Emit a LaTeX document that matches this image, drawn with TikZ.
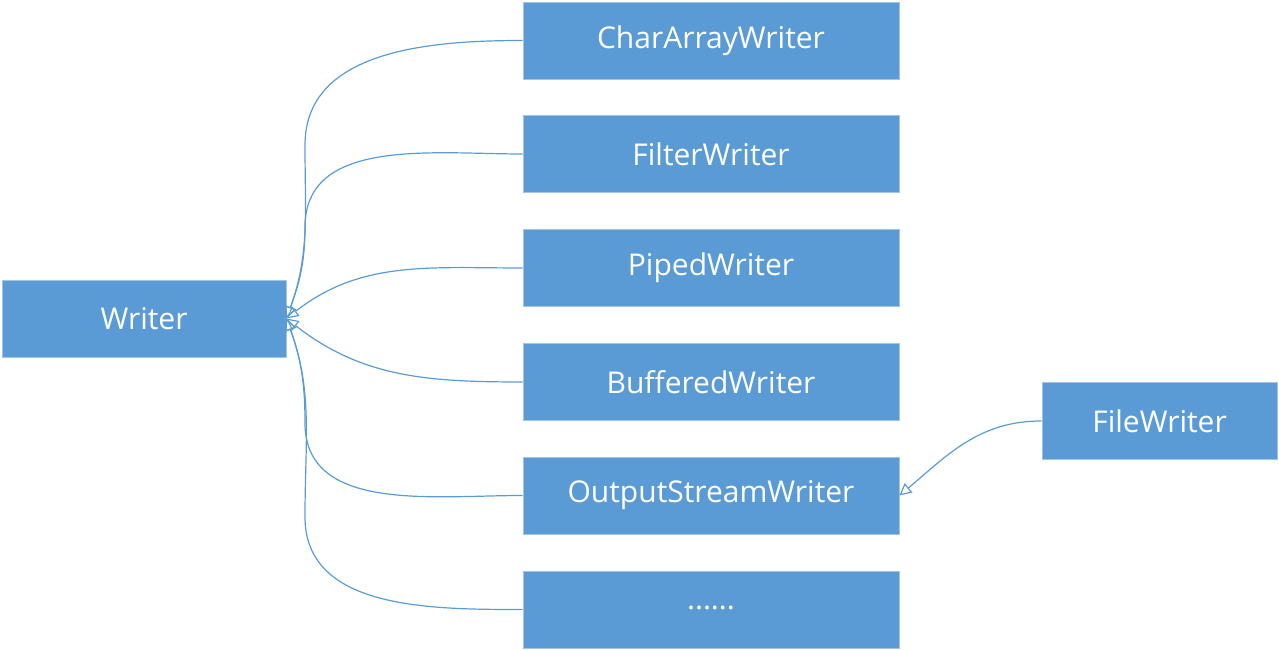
\documentclass[tikz,border=0pt]{standalone}
\usepackage{fontspec}
\setmainfont{Open Sans}
\usetikzlibrary{arrows.meta}
\definecolor{lopxanh}{HTML}{5B9BD5}
\definecolor{vienxanh}{HTML}{A3C4E6}
\begin{document}
\begin{tikzpicture}[x=1pt,y=1pt,
	lop/.style={fill=lopxanh,draw=vienxanh,line width=0.8pt,text=white,font=\fontsize{30}{34}\selectfont,minimum height=77pt,inner sep=0pt},
	ketoi/.style={draw=lopxanh,line width=1.2pt,-{Triangle[open,length=12pt,width=12pt]}}]
	\useasboundingbox (0,0) rectangle (1279,650);
	%			Lớp cha
	\node[lop,minimum width=284pt] (writer) at (144,331.5) {Writer};
	%			Lớp con
	\node[lop,minimum width=376pt] (chararr) at (711,609.5) {CharArrayWriter};
	\node[lop,minimum width=376pt] (filter) at (711,496) {FilterWriter};
	\node[lop,minimum width=376pt] (piped) at (711,382) {PipedWriter};
	\node[lop,minimum width=376pt] (buffered) at (711,268) {BufferedWriter};
	\node[lop,minimum width=376pt] (outstream) at (711,154.5) {OutputStreamWriter};
	\node[lop,minimum width=376pt] (dots) at (711,40.5) {\raisebox{3pt}{......}};
	\node[lop,minimum width=235pt] (filewriter) at (1159.5,229) {FileWriter};
	%			Mũi tên
	\coordinate (j1) at (305,505);
	\coordinate (j2) at (305,423);
	\coordinate (j5) at (305,227);
	\coordinate (j6) at (305,133);
	\draw[ketoi] (chararr.west) to[out=180,in=90] (j1) to[out=-90,in=70] (writer.east);
	\draw[ketoi] (filter.west) to[out=180,in=90] (j2) to[out=-90,in=70] (writer.east);
	\draw[ketoi] (piped.west) to[out=180,in=38] (writer.east);
	\draw[ketoi] (buffered.west) to[out=180,in=-38] (writer.east);
	\draw[ketoi] (outstream.west) to[out=180,in=-90] (j5) to[out=90,in=-70] (writer.east);
	\draw[ketoi] (dots.west) to[out=180,in=-90] (j6) to[out=90,in=-70] (writer.east);
	\draw[ketoi] (filewriter.west) to[out=180,in=40] (outstream.east);
\end{tikzpicture}
\end{document}
